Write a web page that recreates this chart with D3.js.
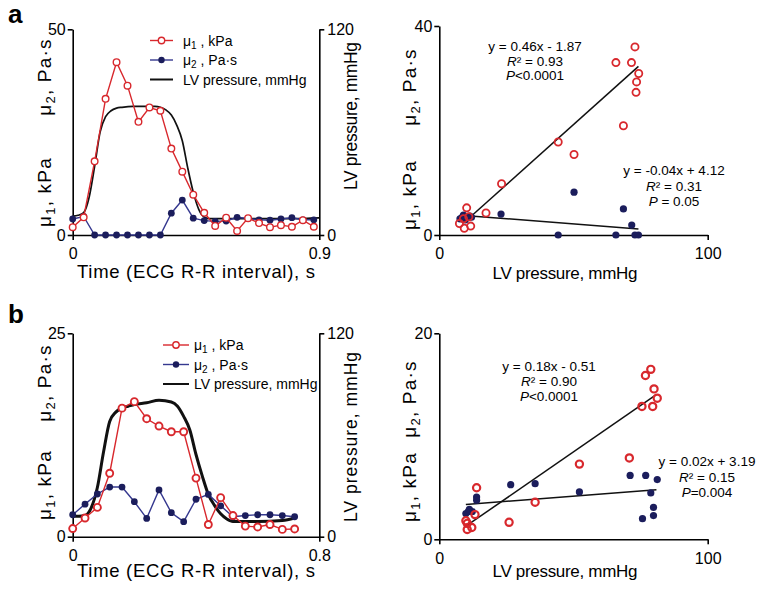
<!DOCTYPE html>
<html>
<head>
<meta charset="utf-8">
<script src="https://cdn.jsdelivr.net/npm/d3@7/dist/d3.min.js"></script>
<style>
  body { margin: 0; background: #fff; }
  svg text { font-family: "Liberation Sans", Arial, sans-serif; fill: #000; }
</style>
</head>
<body>
<div id="chart"></div>
<script>
// ---- panel a, time course ----
const timeA = [0, 0.04, 0.08, 0.12, 0.16, 0.2, 0.24, 0.28, 0.32, 0.36, 0.4, 0.44, 0.48, 0.52, 0.56, 0.6, 0.64, 0.68, 0.72, 0.76, 0.8, 0.84, 0.88];
const mu1A = [1.9, 4.3, 17.9, 33.1, 42.0, 36.3, 27.5, 31.0, 30.2, 21.0, 15.4, 9.8, 5.4, 2.2, 4.2, 1.0, 4.1, 2.9, 1.9, 2.4, 2.0, 3.6, 2.0];
const mu2A = [3.9, 4.5, 0, 0, 0, 0, 0, 0, 0, 5.3, 8.5, 4.1, 3.5, 3.3, 3.4, 4.3, 4.0, 3.7, 3.6, 3.9, 4.2, 3.7, 3.7];
const lvTimeA = [0, 0.02, 0.04, 0.06, 0.08, 0.1, 0.12, 0.14, 0.16, 0.18, 0.22, 0.26, 0.3, 0.32, 0.34, 0.36, 0.38, 0.4, 0.42, 0.44, 0.46, 0.48, 0.5, 0.6, 0.7, 0.8, 0.9];
const lvA = [11, 11.5, 13, 22, 40, 60, 69, 72.5, 74, 74.5, 75, 75, 75, 74.5, 73, 70, 64, 55, 39, 25, 15, 10.5, 9.5, 9.5, 9.5, 9.5, 10];

// ---- panel b, time course ----
const timeB = [0, 0.04, 0.08, 0.12, 0.16, 0.2, 0.24, 0.28, 0.32, 0.36, 0.4, 0.44, 0.48, 0.52, 0.56, 0.6, 0.64, 0.68, 0.72];
const mu1B = [1.0, 2.3, 3.6, 7.8, 15.8, 16.6, 14.5, 13.6, 12.9, 12.9, 7.2, 1.5, 4.8, 2.6, 1.3, 1.2, 1.5, 0.9, 0.95];
const mu2B = [2.7, 4.0, 5.25, 6.1, 6.1, 4.3, 2.25, 5.75, 2.95, 1.85, 4.6, 5.2, 3.8, 2.45, 2.6, 2.7, 2.7, 2.6, 2.45];
const lvTimeB = [0, 0.02, 0.04, 0.06, 0.08, 0.1, 0.12, 0.14, 0.16, 0.18, 0.2, 0.24, 0.28, 0.32, 0.34, 0.36, 0.38, 0.4, 0.42, 0.44, 0.46, 0.48, 0.5, 0.52, 0.6, 0.68, 0.72];
const lvB = [12, 12, 12.5, 17, 29, 50, 68, 73.5, 76, 77, 78, 79, 80.5, 79.5, 77, 71, 63, 48.5, 36, 25, 18.5, 13.5, 10.5, 9, 9, 9.5, 11];

// ---- panel a, scatter (LV pressure, value) ----
const scatMu1A = [[72.9, 36.0], [65.8, 33.0], [71.6, 33.0], [74.3, 30.9], [73.5, 29.3], [73.3, 27.3], [68.6, 20.9], [44.3, 17.8], [50.2, 15.4], [23.2, 9.8], [17.4, 4.2], [10.2, 5.2], [7.5, 2.2], [9.3, 1.3], [11.7, 1.7], [9.0, 3.1], [11.0, 3.5]];
const scatMu2A = [[50.2, 8.2], [68.6, 5.0], [71.7, 1.9], [44.3, 0], [65.8, 0], [72.9, 0], [74.2, 0], [23.0, 4.0], [7.7, 3.1], [9.0, 3.8], [10.4, 3.5], [11.4, 3.6], [9.7, 2.9], [8.5, 3.4], [12.0, 3.4]];
// fits: [slope, intercept, xFrom, xTo]
const fitMu1A = [0.46, -1.87, 10.5, 74.2];
const fitMu2A = [-0.04, 4.12, 10.4, 74.2];
const statsMu1A = ["y = 0.46x - 1.87", "0.93", "<0.0001"];
const statsMu2A = ["y = -0.04x + 4.12", "0.31", " = 0.05"];

// ---- panel b, scatter ----
const scatMu1B = [[78.8, 16.5], [76.8, 15.9], [80.0, 14.6], [81.2, 13.7], [75.5, 12.9], [79.5, 12.9], [70.8, 7.9], [52.2, 7.3], [35.7, 3.6], [13.9, 5.0], [13.3, 2.4], [26.0, 1.65], [10.4, 1.55], [12.1, 1.15], [10.4, 0.95], [9.9, 1.8]];
const scatMu2B = [[71.1, 6.2], [76.9, 6.2], [81.2, 5.8], [78.8, 4.5], [79.8, 3.1], [79.8, 2.3], [75.7, 2.0], [52.2, 4.6], [35.7, 5.4], [26.6, 5.3], [13.9, 4.1], [13.9, 3.8], [10.8, 2.7], [12.3, 2.7], [9.9, 2.5], [11.2, 2.9]];
const fitMu1B = [0.18, -0.51, 9.9, 80.7];
const fitMu2B = [0.02, 3.19, 9.9, 80.9];
const statsMu1B = ["y = 0.18x  - 0.51", "0.90", "<0.0001"];
const statsMu2B = ["y = 0.02x  + 3.19", "0.15", "=0.004"];

const RED = "#d8282d", NAVY = "#1b1d5c", BLUELINE = "#35388f";

const svg = d3.select("#chart").append("svg")
  .attr("width", 764).attr("height", 593);

function styleAxis(g, fs) {
  g.attr("font-family", null).attr("font-size", null);
  g.select(".domain").attr("stroke-width", 1.6);
  g.selectAll(".tick line").attr("stroke-width", 1.6);
  g.selectAll(".tick text").style("font-size", fs + "px");
}

// rotated label like "μ1, kPa" with a subscript
function muLabel(x, y, sub, rest) {
  const t = svg.append("text")
    .attr("transform", `translate(${x},${y}) rotate(-90)`)
    .attr("text-anchor", "middle")
    .style("font-size", "19px").style("letter-spacing", "1.2px");
  t.append("tspan").text("μ");
  t.append("tspan").attr("dy", 4).style("font-size", "13px").text(sub);
  t.append("tspan").attr("dy", -4).text(rest);
}

function timePanel(o) {
  const x = d3.scaleLinear().domain([0, o.tmax]).range([72.7, 319.3]);
  const yMu = d3.scaleLinear().domain([0, o.muMax]).range([o.y0, o.y1]);
  const yLv = d3.scaleLinear().domain([0, 120]).range([o.y0, o.y1]);

  svg.append("g").attr("transform", `translate(0,${o.y0})`)
    .call(d3.axisBottom(x).tickValues([0, o.tmax]).tickFormat(d => d).tickSize(5).tickPadding(8).tickSizeOuter(0))
    .call(g => styleAxis(g, 16));
  svg.append("g").attr("transform", `translate(72.7,0)`)
    .call(d3.axisLeft(yMu).tickValues([0, o.muMax]).tickSize(5).tickPadding(2).tickSizeOuter(0))
    .call(g => styleAxis(g, 16));
  svg.append("g").attr("transform", `translate(319.3,0)`)
    .call(d3.axisRight(yLv).tickValues([0, 120]).tickSize(5).tickPadding(3).tickSizeOuter(0))
    .call(g => styleAxis(g, 16));

  // LV pressure
  svg.append("path")
    .datum(d3.zip(o.lvT, o.lv))
    .attr("fill", "none").attr("stroke", "#111").attr("stroke-width", o.lvWidth)
    .attr("d", d3.line().x(d => x(d[0])).y(d => yLv(d[1])).curve(d3.curveMonotoneX));

  const line = d3.line().x(d => x(d[0])).y(d => yMu(d[1]));
  const m2 = d3.zip(o.t, o.mu2), m1 = d3.zip(o.t, o.mu1);

  svg.append("path").datum(m2).attr("fill", "none").attr("stroke", BLUELINE).attr("stroke-width", 1.4).attr("d", line);
  svg.append("g").selectAll("circle").data(m2).join("circle")
    .attr("cx", d => x(d[0])).attr("cy", d => yMu(d[1])).attr("r", 3.4).attr("fill", NAVY);
  svg.append("path").datum(m1).attr("fill", "none").attr("stroke", RED).attr("stroke-width", 1.4).attr("d", line);
  svg.append("g").selectAll("circle").data(m1).join("circle")
    .attr("cx", d => x(d[0])).attr("cy", d => yMu(d[1])).attr("r", o.r1)
    .attr("fill", "#fff").attr("stroke", RED).attr("stroke-width", o.sw1);

  // legend
  const lg = svg.append("g");
  const rows = [["1", " , kPa"], ["2", " , Pa·s"], [null, "LV pressure, mmHg"]];
  rows.forEach((r, i) => {
    const yy = o.legY[i];
    const col = i === 0 ? RED : i === 1 ? BLUELINE : "#111";
    lg.append("line").attr("x1", o.legX[0]).attr("x2", o.legX[1]).attr("y1", yy).attr("y2", yy)
      .attr("stroke", col).attr("stroke-width", i === 2 ? 2 : 1.4);
    const mx = (o.legX[0] + o.legX[1]) / 2;
    if (i === 0) lg.append("circle").attr("cx", mx).attr("cy", yy).attr("r", 3.2).attr("fill", "#fff").attr("stroke", RED).attr("stroke-width", 1.4);
    if (i === 1) lg.append("circle").attr("cx", mx).attr("cy", yy).attr("r", 3.2).attr("fill", NAVY);
    const t = lg.append("text").attr("x", o.legX[2]).attr("y", yy + 5).style("font-size", "14px");
    if (r[0]) {
      t.append("tspan").text("μ");
      t.append("tspan").attr("dy", 3).style("font-size", "10px").text(r[0]);
      t.append("tspan").attr("dy", -3).text(r[1]);
    } else t.text(r[1]);
  });

  // axis titles
  svg.append("text").attr("x", 196).attr("y", o.titleY).attr("text-anchor", "middle")
    .style("font-size", "18.5px").attr("textLength", 238).attr("lengthAdjust", "spacing")
    .text("Time (ECG R-R interval), s");
  svg.append("text").attr("transform", `translate(357,${o.lvLabY}) rotate(-90)`).attr("text-anchor", "middle")
    .style("font-size", "17.5px").attr("textLength", o.lvLabLen).attr("lengthAdjust", "spacing")
    .text("LV pressure, mmHg");
  muLabel(51, o.mu2LabY, "2", ", Pa·s");
  muLabel(51, o.mu1LabY, "1", ", kPa");
}

function scatterPanel(o) {
  const x = d3.scaleLinear().domain([0, 100]).range([439.3, 707.7]);
  const y = d3.scaleLinear().domain([0, o.yMax]).range([o.y0, o.y1]);

  svg.append("g").attr("transform", `translate(0,${o.y0})`)
    .call(d3.axisBottom(x).tickValues([0, 100]).tickSize(5).tickPadding(8).tickSizeOuter(0))
    .call(g => styleAxis(g, 16));
  svg.append("g").attr("transform", `translate(439.3,0)`)
    .call(d3.axisLeft(y).tickValues([0, o.yMax]).tickSize(5).tickPadding(2).tickSizeOuter(0))
    .call(g => styleAxis(g, 16));

  const fitLine = f => [[f[2], f[0] * f[2] + f[1]], [f[3], f[0] * f[3] + f[1]]];
  const line = d3.line().x(d => x(d[0])).y(d => y(d[1]));
  [o.fit1, o.fit2].forEach(f => {
    svg.append("path").datum(fitLine(f)).attr("fill", "none").attr("stroke", "#111").attr("stroke-width", 1.5).attr("d", line);
  });

  svg.append("g").selectAll("circle").data(o.s2).join("circle")
    .attr("cx", d => x(d[0])).attr("cy", d => y(d[1])).attr("r", 3.6).attr("fill", NAVY);
  svg.append("g").selectAll("circle").data(o.s1).join("circle")
    .attr("cx", d => x(d[0])).attr("cy", d => y(d[1])).attr("r", 3.6)
    .attr("fill", "none").attr("stroke", RED).attr("stroke-width", o.sw1);

  // regression stats
  [[o.st1, o.st1Pos], [o.st2, o.st2Pos]].forEach(([st, p]) => {
    const g = svg.append("g").style("font-size", "13.5px").attr("text-anchor", "middle");
    g.append("text").attr("x", p[0]).attr("y", p[1]).text(st[0]);
    const r = g.append("text").attr("x", p[0]).attr("y", p[1] + p[2]);
    r.append("tspan").style("font-style", "italic").text("R");
    r.append("tspan").text("² = " + st[1]);
    const pp = g.append("text").attr("x", p[0]).attr("y", p[1] + 2 * p[2]);
    pp.append("tspan").style("font-style", "italic").text("P");
    pp.append("tspan").text(st[2]);
  });

  svg.append("text").attr("x", 565).attr("y", o.titleY).attr("text-anchor", "middle")
    .style("font-size", "17px").attr("textLength", 145).attr("lengthAdjust", "spacing")
    .text("LV pressure, mmHg");
  muLabel(416, o.mu2LabY, "2", ", Pa·s");
  muLabel(416, o.mu1LabY, "1", ", kPa");
}

timePanel({
  tmax: 0.9, muMax: 50, y0: 235, y1: 29.3,
  t: timeA, mu1: mu1A, mu2: mu2A, lvT: lvTimeA, lv: lvA, lvWidth: 1.7, r1: 3.3, sw1: 1.4,
  legY: [40.5, 60, 79.5], legX: [150, 173, 183],
  titleY: 278, lvLabY: 116, lvLabLen: 148,
  mu2LabY: 77, mu1LabY: 192
});
timePanel({
  tmax: 0.8, muMax: 25, y0: 536.7, y1: 333.3,
  t: timeB, mu1: mu1B, mu2: mu2B, lvT: lvTimeB, lv: lvB, lvWidth: 3, r1: 3.5, sw1: 1.9,
  legY: [345, 364.5, 384], legX: [163, 189, 194],
  titleY: 577, lvLabY: 437, lvLabLen: 170,
  mu2LabY: 383, mu1LabY: 485
});
scatterPanel({
  yMax: 40, y0: 235, y1: 26,
  s1: scatMu1A, s2: scatMu2A, fit1: fitMu1A, fit2: fitMu2A, sw1: 1.8,
  st1: statsMu1A, st1Pos: [535, 51, 14.5], st2: statsMu2A, st2Pos: [674, 175, 15.5],
  titleY: 279, mu2LabY: 87, mu1LabY: 195
});
scatterPanel({
  yMax: 20, y0: 539.3, y1: 333.3,
  s1: scatMu1B, s2: scatMu2B, fit1: fitMu1B, fit2: fitMu2B, sw1: 2.2,
  st1: statsMu1B, st1Pos: [549, 371, 15], st2: statsMu2B, st2Pos: [707, 466, 15.5],
  titleY: 577, mu2LabY: 399, mu1LabY: 487
});

// panel letters
svg.append("text").attr("x", 8).attr("y", 23).style("font-size", "26px").style("font-weight", "bold").text("a");
svg.append("text").attr("x", 8).attr("y", 323).style("font-size", "26px").style("font-weight", "bold").text("b");
</script>
</body>
</html>
